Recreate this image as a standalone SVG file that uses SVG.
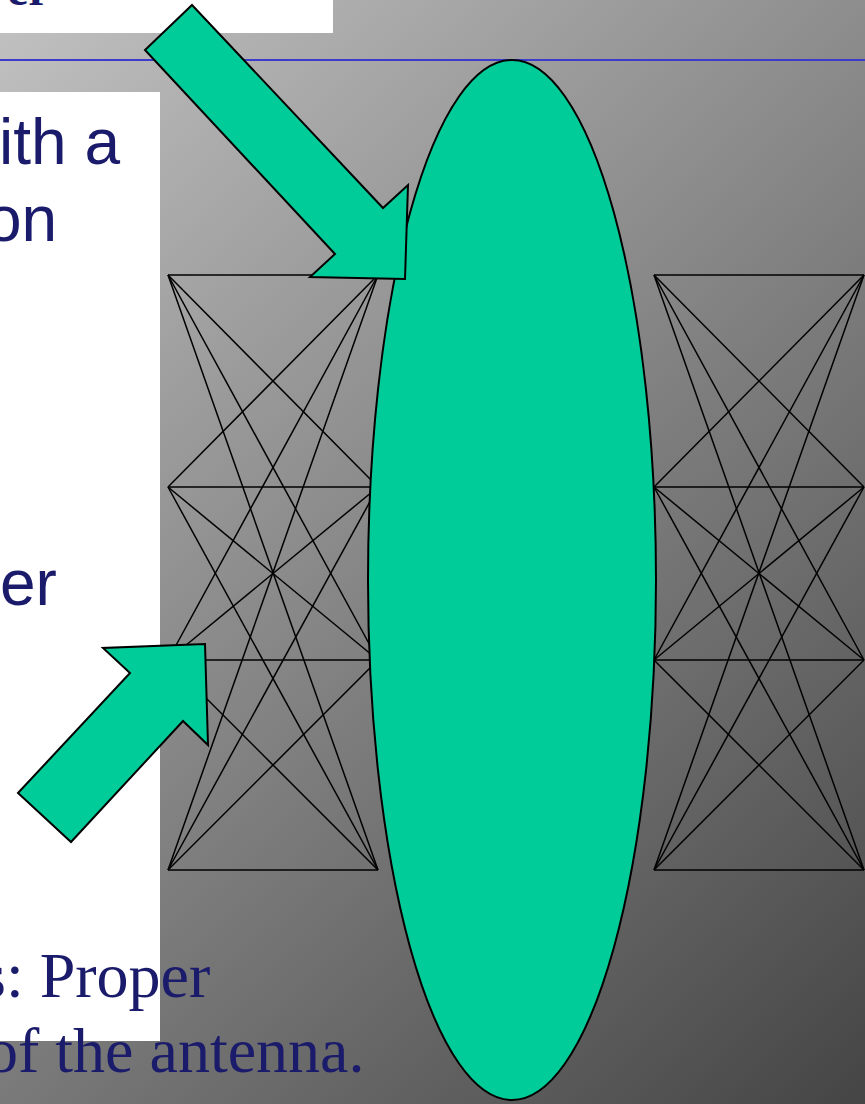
<svg xmlns="http://www.w3.org/2000/svg" width="865" height="1104" viewBox="0 0 865 1104">
  <defs>
    <linearGradient id="bg" gradientUnits="userSpaceOnUse" x1="0" y1="0" x2="954" y2="1033">
      <stop offset="0" stop-color="#c2c2c2"/>
      <stop offset="1" stop-color="#444444"/>
    </linearGradient>
    <style>
      .box { fill: #ffffff; }
      .sans { font-family: "Liberation Sans", Arial, sans-serif; font-size: 64px; fill: #1b1b6b; }
      .serif { font-family: "Liberation Serif", "Times New Roman", serif; font-size: 64px; fill: #1b1b6b; }
      .mesh line { stroke: #000000; stroke-width: 1.5; }
      .green { fill: #00cc99; stroke: #000000; stroke-width: 2; stroke-linejoin: miter; }
    </style>
  </defs>

  <rect x="0" y="0" width="865" height="1104" fill="url(#bg)"/>
  <line x1="0" y1="60" x2="865" y2="60" stroke="#3b3bcc" stroke-width="2"/>

  <g id="title-box">
    <rect class="box" x="0" y="0" width="333" height="33"/>
    <text x="7" y="5" font-family="Liberation Serif, serif" font-weight="bold" font-size="48" fill="#1b1b6b">er</text>
  </g>

  <g id="text-box">
    <rect class="box" x="0" y="92" width="160" height="949"/>
    <text class="sans" x="-1" y="164">ith a</text>
    <text class="sans" x="-14" y="241">on</text>
    <text class="sans" x="0" y="605">er</text>
  </g>

  <g id="bottom-text">
    <text class="serif" x="-19" y="997">s: Proper</text>
    <text class="serif" x="-14" y="1072">of the antenna.</text>
  </g>

  <g id="connectors">
    <g id="mesh-left" class="mesh">
      <line x1="168" y1="275" x2="378" y2="275"/>
      <line x1="168" y1="275" x2="378" y2="487"/>
      <line x1="168" y1="275" x2="378" y2="660"/>
      <line x1="168" y1="275" x2="378" y2="870"/>
      <line x1="168" y1="487" x2="378" y2="275"/>
      <line x1="168" y1="487" x2="378" y2="487"/>
      <line x1="168" y1="487" x2="378" y2="660"/>
      <line x1="168" y1="487" x2="378" y2="870"/>
      <line x1="168" y1="660" x2="378" y2="275"/>
      <line x1="168" y1="660" x2="378" y2="487"/>
      <line x1="168" y1="660" x2="378" y2="660"/>
      <line x1="168" y1="660" x2="378" y2="870"/>
      <line x1="168" y1="870" x2="378" y2="275"/>
      <line x1="168" y1="870" x2="378" y2="487"/>
      <line x1="168" y1="870" x2="378" y2="660"/>
      <line x1="168" y1="870" x2="378" y2="870"/>
    </g>
    <g id="mesh-right" class="mesh">
      <line x1="654" y1="275" x2="864" y2="275"/>
      <line x1="654" y1="275" x2="864" y2="487"/>
      <line x1="654" y1="275" x2="864" y2="660"/>
      <line x1="654" y1="275" x2="864" y2="870"/>
      <line x1="654" y1="487" x2="864" y2="275"/>
      <line x1="654" y1="487" x2="864" y2="487"/>
      <line x1="654" y1="487" x2="864" y2="660"/>
      <line x1="654" y1="487" x2="864" y2="870"/>
      <line x1="654" y1="660" x2="864" y2="275"/>
      <line x1="654" y1="660" x2="864" y2="487"/>
      <line x1="654" y1="660" x2="864" y2="660"/>
      <line x1="654" y1="660" x2="864" y2="870"/>
      <line x1="654" y1="870" x2="864" y2="275"/>
      <line x1="654" y1="870" x2="864" y2="487"/>
      <line x1="654" y1="870" x2="864" y2="660"/>
      <line x1="654" y1="870" x2="864" y2="870"/>
    </g>
  </g>

  <g id="lens">
    <ellipse class="green" cx="512" cy="580" rx="144" ry="520"/>
  </g>

  <g id="arrow-top">
    <polygon class="green" points="192,5 383,208 408,185 405,279 310,277 335,254 145,50"/>
  </g>

  <g id="arrow-bottom">
    <polygon class="green" points="18,793 130,673 103,648 205,644 208,745 183,721 71,842"/>
  </g>
</svg>
